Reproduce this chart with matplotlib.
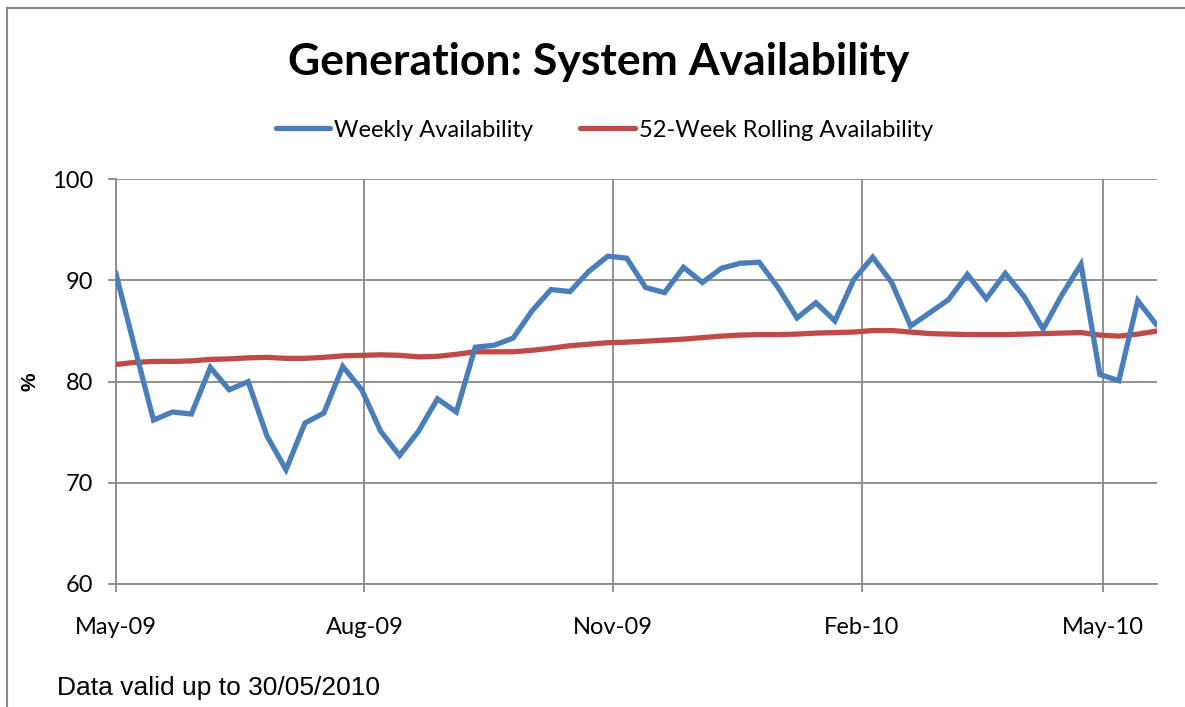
import numpy as np
import pandas as pd
import matplotlib
matplotlib.use("Agg")
import matplotlib.pyplot as plt
import matplotlib.dates as mdates
from matplotlib.patches import Rectangle

# weekly points, first week starting 1 May 2009
week_start = "2009-05-01"
n_weeks = 56

weekly = [90.8, 83.4, 76.2, 77.0, 76.8, 81.4, 79.2, 80.0, 74.6, 71.3,
          75.9, 76.9, 81.5, 79.2, 75.1, 72.7, 75.1, 78.3, 77.0, 83.4,
          83.6, 84.3, 87.0, 89.1, 88.9, 90.9, 92.4, 92.2, 89.3, 88.8,
          91.3, 89.8, 91.2, 91.7, 91.8, 89.3, 86.3, 87.8, 86.0, 90.1,
          92.3, 89.8, 85.5, 86.8, 88.1, 90.6, 88.2, 90.7, 88.4, 85.2,
          88.6, 91.6, 80.7, 80.1, 88.0, 85.6]

rolling = [81.7, 81.9, 82.0, 82.0, 82.05, 82.2, 82.25, 82.35, 82.4, 82.3,
           82.3, 82.4, 82.55, 82.6, 82.65, 82.6, 82.45, 82.5, 82.7, 82.95,
           82.95, 82.95, 83.1, 83.3, 83.55, 83.7, 83.85, 83.9, 84.0, 84.1,
           84.2, 84.35, 84.5, 84.6, 84.65, 84.65, 84.7, 84.8, 84.85, 84.9,
           85.05, 85.05, 84.9, 84.75, 84.7, 84.65, 84.65, 84.65, 84.7, 84.75,
           84.8, 84.85, 84.6, 84.5, 84.7, 85.0]

yticks = [60, 70, 80, 90, 100]

dates = pd.date_range(week_start, periods=n_weeks, freq="7D")

BLUE = "#4A7EBB"
RED = "#BE4B48"
GREY = "#888888"

fig = plt.figure(figsize=(11.85, 7.07), dpi=100)
ax = fig.add_axes([0.0976, 0.174, 0.8785, 0.5724])

ax.plot(dates, rolling, color=RED, lw=3.8, solid_capstyle="round",
        label="52-Week Rolling Availability", zorder=3)
ax.plot(dates, weekly, color=BLUE, lw=3.8, solid_capstyle="round",
        solid_joinstyle="miter", label="Weekly Availability", zorder=4)

ax.set_xlim(dates[0], dates[-1])
ax.set_ylim(60, 100)
ax.set_yticks(yticks)
ax.xaxis.set_major_locator(mdates.MonthLocator(bymonth=[2, 5, 8, 11]))
ax.xaxis.set_major_formatter(mdates.DateFormatter("%b-%y"))

ax.grid(True, color=GREY, lw=1.3)
ax.set_axisbelow(True)
for s in ("top", "right"):
    ax.spines[s].set_visible(False)
for s in ("left", "bottom"):
    ax.spines[s].set_color(GREY)
    ax.spines[s].set_linewidth(1.3)

ax.tick_params(axis="both", direction="out", length=6, width=1.3, color=GREY)
ax.tick_params(axis="x", pad=18)
ax.tick_params(axis="y", pad=10)
for lab in ax.get_xticklabels() + ax.get_yticklabels():
    lab.set_fontfamily("Lato")
    lab.set_fontsize(17)

fig.text(0.025, 0.46, "%", rotation=90, ha="center", va="center",
         fontsize=15, fontweight="bold", family="Liberation Sans")

fig.text(0.5055, 0.912, "Generation: System Availability", ha="center",
         va="center", fontsize=32, fontweight="bold", family="Lato")

h, l = ax.get_legend_handles_labels()
fig.legend(h[::-1], l[::-1], loc="center", bbox_to_anchor=(0.51, 0.816),
           ncol=2, frameon=False, prop={"family": "Lato", "size": 17},
           handlelength=2.3, handletextpad=0.17, columnspacing=2.0)

fig.text(0.048, 0.027, "Data valid up to 30/05/2010", ha="left",
         va="center", fontsize=19, family="Liberation Sans")

# chart-area border (right and bottom edges fall outside the picture)
fig.patches.append(Rectangle((7 / 1185, -0.1), 2, 1.1 - 8 / 707,
                             transform=fig.transFigure, fill=False,
                             edgecolor=GREY, lw=1.5))

fig.savefig("out.png", dpi=100)
